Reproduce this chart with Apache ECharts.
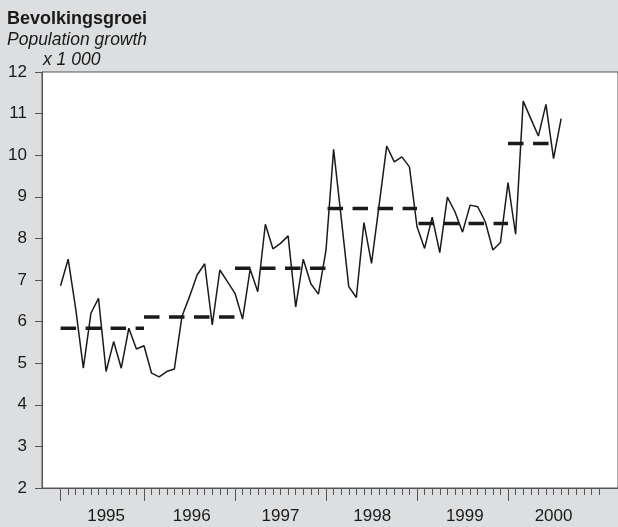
<!DOCTYPE html>
<html>
<head>
<meta charset="utf-8">
<title>Bevolkingsgroei</title>
<script src="https://cdn.jsdelivr.net/npm/echarts@6/dist/echarts.min.js"></script>
<style>
  html, body { margin: 0; padding: 0; background: #dddedf; }
  #chart { width: 618px; height: 527px; }
</style>
</head>
<body>
<div id="chart"></div>
<script>
// monthly values (x 1 000), index 0 = first month shown
const monthly = [
  6.86, 7.50, 6.30, 4.88, 6.20, 6.56, 4.80, 5.52, 4.88, 5.84, 5.34, 5.42,
  4.76, 4.67, 4.80, 4.86, 6.12, 6.60, 7.12, 7.39, 5.92, 7.24, 6.96, 6.68,
  6.06, 7.26, 6.72, 8.34, 7.75, 7.88, 8.06, 6.35, 7.50, 6.91, 6.66, 7.72,
  10.14, 8.50, 6.84, 6.58, 8.38, 7.40, 8.80, 10.22, 9.84, 9.96, 9.72, 8.28,
  7.76, 8.51, 7.66, 8.99, 8.64, 8.15, 8.80, 8.76, 8.40, 7.72, 7.90, 9.34,
  8.10, 11.30, 10.88, 10.46, 11.22, 9.92, 10.88
];

// yearly averages (dashed)
const years = ['1995', '1996', '1997', '1998', '1999', '2000'];
const yearAverage = [5.84, 6.11, 7.28, 8.72, 8.36, 10.28];
const avgFrom = [0, 11, 23, 35.2, 47.2, 59];
const avgTo = [11, 23, 35, 47, 59, 65.3];

// axis ticks / labels (month index)
const yearTicks = [0, 11, 23, 35, 47, 59];
const yearLabelPos = [6, 17.3, 29, 41.1, 53.3, 65];
const monthTicks = [];
for (let m = 0; m < 72; m++) monthTicks.push(m);

const xMin = -2.45;
const xMax = 73.5;
const textColor = '#1a1a1a';
const axisColor = '#555';

let myChart = echarts.init(document.getElementById('chart'), null, { renderer: 'canvas' });

let series = [];
years.forEach((y, k) => {
  series.push({
    name: 'gem ' + y,
    type: 'line',
    xAxisIndex: 0,
    symbol: 'none',
    silent: true,
    lineStyle: { color: textColor, width: 3.5, type: [15.5, 9.5] },
    data: [[avgFrom[k], yearAverage[k]], [avgTo[k], yearAverage[k]]],
    z: 2
  });
});
series.push({
  name: 'Bevolkingsgroei',
  type: 'line',
  xAxisIndex: 0,
  symbol: 'none',
  lineStyle: { color: textColor, width: 1.5 },
  data: monthly.map((v, i) => [i, v]),
  z: 3
});

let option = {
  backgroundColor: '#dddedf',
  animation: false,
  title: [
    { text: 'Bevolkingsgroei', left: 7, top: 10, padding: 0,
      textStyle: { fontFamily: 'Liberation Sans', fontWeight: 'bold', fontSize: 18, color: textColor } },
    { text: 'Population growth', left: 7, top: 31, padding: 0,
      textStyle: { fontFamily: 'Liberation Sans', fontStyle: 'italic', fontWeight: 'normal', fontSize: 17.5, color: textColor } },
    { text: 'x 1 000', left: 43, top: 51, padding: 0,
      textStyle: { fontFamily: 'Liberation Sans', fontStyle: 'italic', fontWeight: 'normal', fontSize: 17.5, color: textColor } }
  ],
  grid: {
    left: 42,
    top: 72,
    right: -3,
    bottom: 39,
    show: true,
    backgroundColor: '#fff',
    borderColor: axisColor,
    borderWidth: 1
  },
  xAxis: [
    {
      type: 'value',
      min: xMin,
      max: xMax,
      position: 'bottom',
      axisLine: { show: true, onZero: false, lineStyle: { color: axisColor, width: 1 } },
      splitLine: { show: false },
      axisTick: { show: true, customValues: monthTicks, length: 7, lineStyle: { color: axisColor } },
      axisLabel: {
        show: true,
        customValues: yearLabelPos,
        margin: 20,
        fontFamily: 'Liberation Sans',
        fontSize: 17,
        color: textColor,
        formatter: (v) => years[yearLabelPos.indexOf(v)]
      }
    },
    {
      type: 'value',
      min: xMin,
      max: xMax,
      position: 'bottom',
      offset: 0,
      axisLine: { show: false, onZero: false },
      splitLine: { show: false },
      axisTick: { show: true, customValues: yearTicks, length: 13, lineStyle: { color: axisColor } },
      axisLabel: { show: false }
    }
  ],
  yAxis: {
    type: 'value',
    min: 2,
    max: 12,
    interval: 1,
    axisLine: { show: true, onZero: false, lineStyle: { color: axisColor, width: 1 } },
    axisTick: { show: true, length: 7, lineStyle: { color: axisColor } },
    splitLine: { show: false },
    axisLabel: { margin: 15, fontFamily: 'Liberation Sans', fontSize: 17, color: textColor }
  },
  series: series
};

myChart.setOption(option, true);
window.addEventListener('resize', () => {
  myChart.resize();
});
</script>
</body>
</html>
